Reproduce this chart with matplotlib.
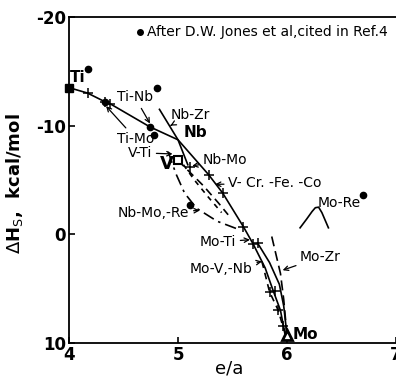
import matplotlib
matplotlib.use('Agg')
import matplotlib.pyplot as plt

# e/a vs heat of solution (kcal/mol)
main_x = [4.00, 4.17, 4.33, 4.38, 4.74, 5.00, 5.28, 5.41, 5.60, 5.69]
main_y = [-13.5, -13.0, -12.2, -12.0, -9.9, -8.7, -5.5, -3.8, -0.7, 0.9]

nbzr_x = [4.83, 5.00, 5.09]
nbzr_y = [-11.5, -8.7, -6.4]

mov_a_x = [5.69, 5.80, 5.87, 5.94, 5.98]
mov_a_y = [0.9, 3.1, 5.1, 7.0, 9.1]
mov_b_x = [5.73, 5.84, 5.93, 5.97, 6.00]
mov_b_y = [0.8, 2.6, 4.6, 6.6, 9.3]

mozr_x = [5.86, 5.90, 5.94, 5.97, 6.00]
mozr_y = [0.2, 1.9, 3.6, 6.0, 9.3]

moti_x = [5.77, 5.84, 5.92, 5.96, 5.99]
moti_y = [2.5, 5.3, 7.0, 8.4, 9.2]

vcr_x = [5.00, 5.11, 5.23, 5.37, 5.46]
vcr_y = [-6.8, -5.7, -4.5, -2.9, -1.8]
vfe_x = [5.05, 5.15, 5.28, 5.40]
vfe_y = [-6.4, -5.0, -3.4, -2.0]

nbre_x = [4.91, 4.98, 5.06, 5.17, 5.36, 5.57]
nbre_y = [-7.6, -5.6, -3.8, -2.4, -1.2, -0.4]

more_x = [6.12, 6.18, 6.23, 6.26, 6.29, 6.32, 6.35, 6.38]
more_y = [-0.6, -1.4, -2.1, -2.45, -2.5, -2.0, -1.3, -0.6]

cross_x = [4.17, 4.33, 4.38, 5.11, 5.28, 5.41, 5.60, 5.69, 5.73, 5.84, 5.89, 5.92, 5.96]
cross_y = [-13.0, -12.2, -12.0, -6.2, -5.5, -3.8, -0.7, 0.9, 0.8, 5.3, 5.2, 7.0, 8.4]

# After D.W. Jones et al.
jones_x = [4.17, 4.81, 4.78, 4.74, 4.33, 5.11, 6.70]
jones_y = [-15.2, -13.5, -9.1, -9.9, -12.2, -2.7, -3.6]

elements = ['Ti', 'V', 'Nb', 'Mo']
elem_x = [4.00, 5.00, 5.00, 6.00]
elem_y = [-13.5, -6.8, -8.7, 9.3]

# label, text position, arrow tip (None = no leader)
labels = [
    ('Ti-Nb', 4.44, -12.6, (4.743, -10.2)),
    ('Ti-Mo', 4.44, -8.8, (4.34, -11.8)),
    ('Nb-Zr', 4.93, -11.0, (4.93, -10.0)),
    ('V-Ti', 4.54, -7.5, (4.95, -7.4)),
    ('Nb-Mo', 5.23, -6.8, (5.13, -6.3)),
    ('V- Cr. -Fe. -Co', 5.46, -4.7, (5.34, -4.6)),
    ('Nb-Mo,-Re', 4.45, -2.0, (5.20, -2.2)),
    ('Mo-Ti', 5.20, 0.7, (5.66, 0.5)),
    ('Mo-V,-Nb', 5.11, 3.2, (5.77, 2.5)),
    ('Mo-Zr', 6.12, 2.1, (5.96, 3.3)),
    ('Mo-Re', 6.28, -2.9, None),
]

bold_labels = [('Ti', 4.01, -14.4, 11), ('Nb', 5.05, -9.4, 11),
               ('V', 4.83, -6.5, 13), ('Mo', 6.05, 9.25, 11)]


def draw(ax):
    lw = 1.2
    ax.plot(main_x, main_y, '-', color='black', lw=lw)
    ax.plot(nbzr_x, nbzr_y, '-', color='black', lw=lw)
    ax.plot(mov_a_x, mov_a_y, '-', color='black', lw=lw)
    ax.plot(mov_b_x, mov_b_y, '-', color='black', lw=lw)
    ax.plot(mozr_x, mozr_y, color='black', lw=lw, dashes=(6, 3))
    ax.plot(moti_x, moti_y, color='black', lw=lw, dashes=(4, 3))
    ax.plot(vcr_x, vcr_y, color='black', lw=lw, dashes=(5, 3))
    ax.plot(vfe_x, vfe_y, color='black', lw=lw, dashes=(3, 3))
    ax.plot(nbre_x, nbre_y, color='black', lw=lw, dashes=(7, 3, 1.5, 3))
    ax.plot(more_x, more_y, '-', color='black', lw=lw)

    ax.plot(cross_x, cross_y, '+', color='black', ms=7, mew=1.1)
    ax.plot(jones_x, jones_y, 'o', color='black', ms=4.5)

    # pure metals
    ax.plot(elem_x[0], elem_y[0], 's', color='black', ms=6, clip_on=False)
    ax.plot(elem_x[1], elem_y[1], 's', mfc='white', mec='black', ms=6, mew=1.5)
    ax.plot(elem_x[3], elem_y[3], '^', mfc='white', mec='black', ms=7, mew=2)

    for text, tx, ty, tip in labels:
        if tip is None:
            ax.text(tx, ty, text, fontsize=10, va='center', ha='left')
        else:
            ax.annotate(text, xy=tip, xytext=(tx, ty), fontsize=10,
                        va='center', ha='left',
                        arrowprops=dict(arrowstyle='->', lw=0.9, color='black',
                                        shrinkA=1, shrinkB=0,
                                        mutation_scale=8))
    for text, tx, ty, fs in bold_labels:
        ax.text(tx, ty, text, fontsize=fs, fontweight='bold', va='center', ha='left')

    ax.plot(4.65, -18.6, 'o', color='black', ms=4)
    ax.text(4.72, -18.6, 'After D.W. Jones et al,cited in Ref.4',
            fontsize=10, va='center', ha='left')


def main():
    plt.rcParams['font.family'] = ['DejaVu Sans']
    plt.rcParams['axes.unicode_minus'] = False
    fig = plt.figure(figsize=(3.96, 3.76), dpi=100)
    ax = fig.add_axes([69 / 396, 1 - 343 / 376, 1 - 69 / 396, (343 - 17) / 376])

    draw(ax)

    ax.set_xlim(4, 7)
    ax.set_ylim(10, -20)
    ax.set_xticks([4, 5, 6, 7])
    ax.set_yticks([-20, -10, 0, 10])
    ax.tick_params(direction='in', length=4, width=1.2, labelsize=12, pad=2)
    for lab in ax.get_xticklabels() + ax.get_yticklabels():
        lab.set_fontweight('bold')
    for side in ['left', 'top', 'bottom']:
        ax.spines[side].set_linewidth(1.3)
    ax.spines['right'].set_visible(False)

    ax.set_ylabel(r'$\Delta$H$_\mathrm{S}$,  kcal/mol', fontsize=13, fontweight='bold')
    ax.yaxis.set_label_coords(-0.135, 0.49)
    ax.set_xlabel('e/a', fontsize=13)
    ax.xaxis.set_label_coords(0.49, -0.05)

    fig.savefig('out.png', dpi=100)
    plt.close(fig)


if __name__ == "__main__":
    main()
